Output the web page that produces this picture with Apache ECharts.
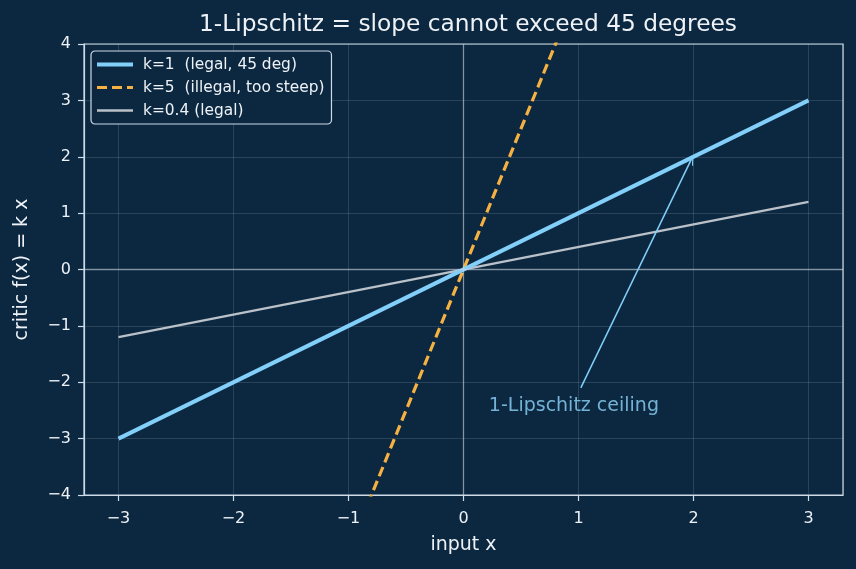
<!DOCTYPE html>
<html>
<head>
<meta charset="utf-8">
<script src="https://cdn.jsdelivr.net/npm/echarts@6/dist/echarts.min.js"></script>
<style>
  html, body { margin: 0; padding: 0; background: #0b2840; }
  #chart { width: 856px; height: 569px; }
</style>
</head>
<body>
<div id="chart"></div>
<script>
// x endpoints shared by all three lines
var xs = [-3, 3];
var k1 = [-3, 3];        // k=1
var k5 = [-15, 15];      // k=5 (clipped by the y range)
var k04 = [-1.2, 1.2];   // k=0.4
var xTicks = [-3, -2, -1, 0, 1, 2, 3];
var yTicks = [-4, -3, -2, -1, 0, 1, 2, 3, 4];
var arrowFrom = [1.02, -2.1];
var arrowTo = [1.98, 1.95];
var noteAt = [0.96, -2.42];

function pairs(ys) {
  return xs.map(function (x, i) { return [x, ys[i]]; });
}
function minus(v) {
  return String(v).replace('-', '\u2212');
}

var fg = '#eef2f6';
var spine = '#cddbe8';
var font = 'DejaVu Sans';
var chart = echarts.init(document.getElementById('chart'));

var option = {
  backgroundColor: '#0b2840',
  animation: false,
  textStyle: { fontFamily: font },
  title: {
    text: '1-Lipschitz = slope cannot exceed 45 degrees',
    left: 463, top: 8, textAlign: 'center',
    textStyle: { color: fg, fontSize: 23.3, fontWeight: 'normal', fontFamily: font }
  },
  grid: {
    left: 84, right: 13, top: 44, bottom: 74,
    show: true, borderColor: spine, borderWidth: 1.2, backgroundColor: 'transparent'
  },
  legend: {
    left: 91, top: 51, orient: 'vertical',
    itemWidth: 36, itemHeight: 14, itemGap: 8,
    padding: [6, 7, 6, 4],
    borderColor: spine, borderWidth: 1.2, borderRadius: 4,
    backgroundColor: '#0b2840',
    itemStyle: { opacity: 0, color: 'transparent', borderWidth: 0 },
    textStyle: { color: fg, fontSize: 15.4, fontFamily: font, padding: [0, 0, 0, 5] },
    data: [
      { name: 'k=1  (legal, 45 deg)', lineStyle: { width: 4 } },
      { name: 'k=5  (illegal, too steep)', lineStyle: { width: 3.2, type: [10, 5] } },
      { name: 'k=0.4 (legal)', lineStyle: { width: 2.4 } }
    ]
  },
  xAxis: {
    type: 'value', min: -3.3, max: 3.3, splitNumber: 6,
    name: 'input x', nameLocation: 'middle', nameGap: 41,
    nameTextStyle: { color: fg, fontSize: 19 },
    axisLine: { show: true, onZero: false, lineStyle: { color: spine, width: 1.2 } },
    axisTick: { show: true, length: 6, lineStyle: { color: spine, width: 1.2 } },
    axisLabel: {
      color: fg, fontSize: 16, margin: 16,
      showMinLabel: false, showMaxLabel: false,
      formatter: function (v) { return xTicks.indexOf(v) >= 0 ? minus(v) : ''; }
    },
    splitLine: { show: true, lineStyle: { color: 'rgba(255,255,255,0.13)' } }
  },
  yAxis: {
    type: 'value', min: -4, max: 4, interval: 1,
    name: 'critic f(x) = k x', nameLocation: 'middle', nameGap: 52,
    nameTextStyle: { color: fg, fontSize: 19 },
    axisLine: { show: true, onZero: false, lineStyle: { color: spine, width: 1.2 } },
    axisTick: { show: true, length: 6, lineStyle: { color: spine, width: 1.2 } },
    axisLabel: {
      color: fg, fontSize: 16, margin: 13,
      formatter: function (v) { return yTicks.indexOf(v) >= 0 ? minus(v) : ''; }
    },
    splitLine: { show: true, lineStyle: { color: 'rgba(255,255,255,0.13)' } }
  },
  series: [
    {
      name: 'zero', type: 'line', data: [], silent: true,
      markLine: {
        symbol: 'none', silent: true, label: { show: false },
        lineStyle: { color: 'rgba(205,215,225,0.55)', width: 1.3, type: 'solid' },
        data: [{ xAxis: 0 }, { yAxis: 0 }]
      }
    },
    {
      name: 'k=0.4 (legal)', type: 'line', data: pairs(k04),
      symbol: 'none', color: '#bac1c9',
      lineStyle: { width: 2.4, color: '#bac1c9' }
    },
    {
      name: 'k=5  (illegal, too steep)', type: 'line', data: pairs(k5),
      symbol: 'none', clip: true, color: '#f6b143',
      lineStyle: { width: 3.2, type: [10, 5], color: '#f6b143' }
    },
    {
      name: 'k=1  (legal, 45 deg)', type: 'line', data: pairs(k1),
      symbol: 'none', color: '#82cffa',
      lineStyle: { width: 4, color: '#82cffa' }
    },
    {
      name: 'note', type: 'scatter', symbolSize: 0,
      data: [noteAt],
      label: {
        show: true, position: 'inside', formatter: '1-Lipschitz ceiling',
        color: '#8fd4fb', fontSize: 19, fontFamily: font
      },
      markLine: {
        silent: true,
        symbol: ['none', 'path://M0,12 L6,0 L12,12 L10.4,12 L6,3.2 L1.6,12 Z'],
        symbolSize: [9, 10],
        label: { show: false },
        lineStyle: { color: '#82cffa', width: 1.5, type: 'solid' },
        data: [[{ coord: arrowFrom }, { coord: arrowTo }]]
      }
    }
  ]
};
chart.setOption(option);
</script>
</body>
</html>
